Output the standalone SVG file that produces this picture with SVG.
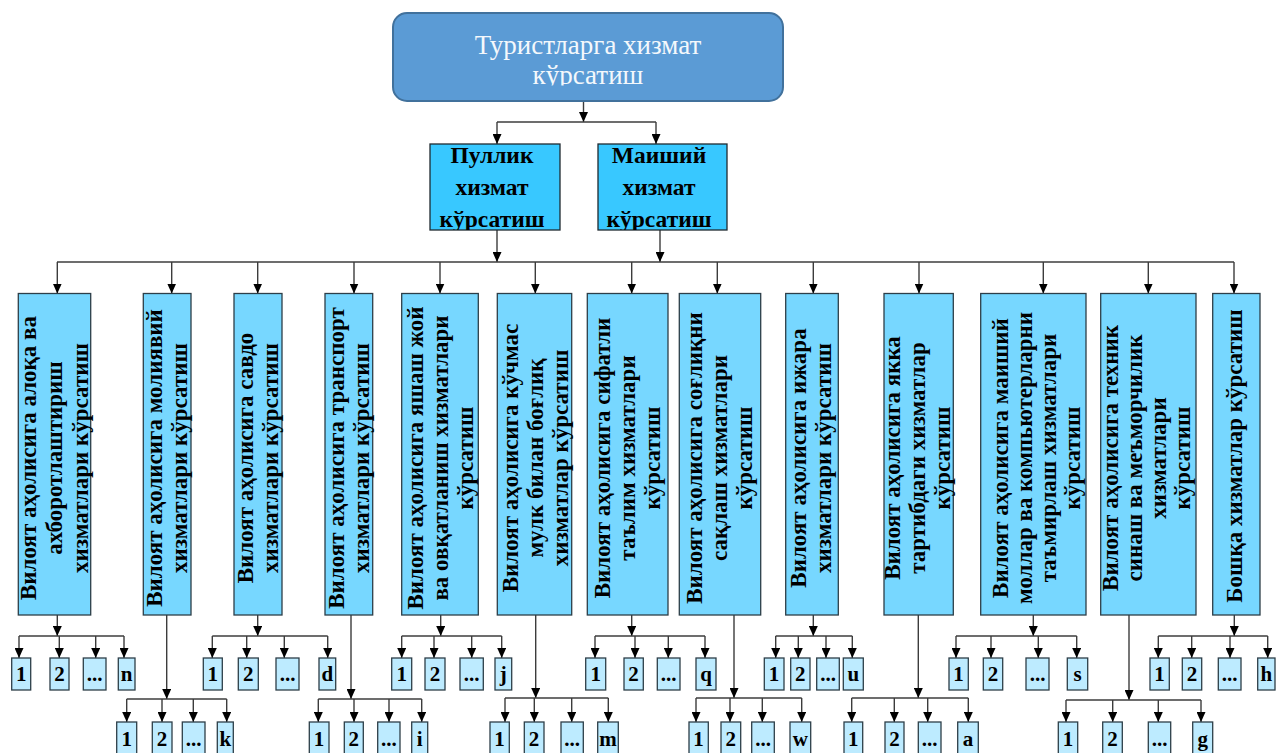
<svg xmlns="http://www.w3.org/2000/svg" width="1279" height="753" viewBox="0 0 1279 753">
<style>
.conn line,.conn path{stroke:#3c3c3c;stroke-width:1.4;fill:none}
.arr{marker-end:url(#ah)}
.vb{fill:#77D7FF;stroke:#2d3e48;stroke-width:1.3}
.sb{fill:#BDEBFF;stroke:#2d3e48;stroke-width:1.3}
.mb{fill:#38C8FF;stroke:#1f2a30;stroke-width:1.3}
.vt{font-family:"Liberation Serif","Times New Roman",serif;font-weight:bold;font-size:23px;fill:#000;text-anchor:middle}
.st{font-family:"Liberation Serif","Times New Roman",serif;font-weight:bold;font-size:21px;fill:#000;text-anchor:middle}
.mt{font-family:"Liberation Serif","Times New Roman",serif;font-weight:bold;font-size:23.5px;fill:#000;text-anchor:middle}
.tt{font-family:"Liberation Serif","Times New Roman",serif;font-size:27px;fill:#F4F8FC;text-anchor:middle}
</style>
<defs>
<marker id="ah" viewBox="0 0 10 9" refX="10" refY="4.5" markerWidth="10" markerHeight="9" markerUnits="userSpaceOnUse" orient="auto"><path d="M0,0 L10,4.5 L0,9 z" fill="#000"/></marker>
<clipPath id="cTop"><rect x="393" y="13" width="390" height="72.5"/></clipPath>
<clipPath id="cP"><rect x="430" y="144" width="130" height="86"/></clipPath>
<clipPath id="cM"><rect x="598" y="144" width="129" height="86"/></clipPath>
</defs>
<rect width="1279" height="753" fill="#fff"/>

<g class="conn" id="connectors">
<line class="arr" x1="583.5" y1="101" x2="583.5" y2="122"/>
<line x1="497" y1="122" x2="656" y2="122"/>
<line class="arr" x1="497" y1="122" x2="497" y2="144"/>
<line class="arr" x1="656" y1="122" x2="656" y2="144"/>
<line class="arr" x1="497" y1="230" x2="497" y2="262"/>
<line class="arr" x1="660" y1="230" x2="660" y2="262"/>
<line x1="57" y1="262" x2="1234" y2="262"/>
<line class="arr" x1="57.3" y1="262" x2="57.3" y2="293.5"/>
<line class="arr" x1="171.7" y1="262" x2="171.7" y2="293.5"/>
<line class="arr" x1="257.7" y1="262" x2="257.7" y2="293.5"/>
<line class="arr" x1="354" y1="262" x2="354" y2="293.5"/>
<line class="arr" x1="440" y1="262" x2="440" y2="293.5"/>
<line class="arr" x1="535.3" y1="262" x2="535.3" y2="293.5"/>
<line class="arr" x1="631.7" y1="262" x2="631.7" y2="293.5"/>
<line class="arr" x1="717.3" y1="262" x2="717.3" y2="293.5"/>
<line class="arr" x1="813.3" y1="262" x2="813.3" y2="293.5"/>
<line class="arr" x1="919" y1="262" x2="919" y2="293.5"/>
<line class="arr" x1="1043.3" y1="262" x2="1043.3" y2="293.5"/>
<line class="arr" x1="1148.3" y1="262" x2="1148.3" y2="293.5"/>
<line class="arr" x1="1234" y1="262" x2="1234" y2="293.5"/>

<line class="arr" x1="57.3" y1="615" x2="57.3" y2="636"/>
<line x1="19" y1="636" x2="124" y2="636"/>
<line class="arr" x1="19" y1="636" x2="19" y2="658"/><line class="arr" x1="59.3" y1="636" x2="59.3" y2="658"/><line class="arr" x1="95.7" y1="636" x2="95.7" y2="658"/><line class="arr" x1="124" y1="636" x2="124" y2="658"/>

<line class="arr" x1="257.7" y1="615" x2="257.7" y2="636"/>
<line x1="212.3" y1="636" x2="327.7" y2="636"/>
<line class="arr" x1="212.3" y1="636" x2="212.3" y2="658"/><line class="arr" x1="246.7" y1="636" x2="246.7" y2="658"/><line class="arr" x1="284.3" y1="636" x2="284.3" y2="658"/><line class="arr" x1="327.7" y1="636" x2="327.7" y2="658"/>

<line class="arr" x1="440.7" y1="615" x2="440.7" y2="636"/>
<line x1="401.7" y1="636" x2="501.7" y2="636"/>
<line class="arr" x1="401.7" y1="636" x2="401.7" y2="658"/><line class="arr" x1="434" y1="636" x2="434" y2="658"/><line class="arr" x1="471.7" y1="636" x2="471.7" y2="658"/><line class="arr" x1="501.7" y1="636" x2="501.7" y2="658"/>

<line class="arr" x1="631.7" y1="615" x2="631.7" y2="636"/>
<line x1="595" y1="636" x2="705" y2="636"/>
<line class="arr" x1="595" y1="636" x2="595" y2="658"/><line class="arr" x1="635" y1="636" x2="635" y2="658"/><line class="arr" x1="668.3" y1="636" x2="668.3" y2="658"/><line class="arr" x1="705" y1="636" x2="705" y2="658"/>

<line class="arr" x1="813.3" y1="615" x2="813.3" y2="636"/>
<line x1="775.7" y1="636" x2="852.3" y2="636"/>
<line class="arr" x1="775.7" y1="636" x2="775.7" y2="658"/><line class="arr" x1="798.3" y1="636" x2="798.3" y2="658"/><line class="arr" x1="826" y1="636" x2="826" y2="658"/><line class="arr" x1="852.3" y1="636" x2="852.3" y2="658"/>

<line class="arr" x1="1033.3" y1="615" x2="1033.3" y2="636"/>
<line x1="956" y1="636" x2="1076.7" y2="636"/>
<line class="arr" x1="956" y1="636" x2="956" y2="658"/><line class="arr" x1="991" y1="636" x2="991" y2="658"/><line class="arr" x1="1038.3" y1="636" x2="1038.3" y2="658"/><line class="arr" x1="1076.7" y1="636" x2="1076.7" y2="658"/>

<line class="arr" x1="1234.3" y1="615" x2="1234.3" y2="636"/>
<line x1="1158.3" y1="636" x2="1267.7" y2="636"/>
<line class="arr" x1="1158.3" y1="636" x2="1158.3" y2="658"/><line class="arr" x1="1191.7" y1="636" x2="1191.7" y2="658"/><line class="arr" x1="1230" y1="636" x2="1230" y2="658"/><line class="arr" x1="1267.7" y1="636" x2="1267.7" y2="658"/>

<line class="arr" x1="166.7" y1="615" x2="166.7" y2="699"/>
<line x1="126.7" y1="699" x2="226.7" y2="699"/>
<line class="arr" x1="126.7" y1="699" x2="126.7" y2="722"/><line class="arr" x1="162" y1="699" x2="162" y2="722"/><line class="arr" x1="193.3" y1="699" x2="193.3" y2="722"/><line class="arr" x1="226.7" y1="699" x2="226.7" y2="722"/>

<line class="arr" x1="351" y1="615" x2="351" y2="699"/>
<line x1="318.3" y1="699" x2="421.7" y2="699"/>
<line class="arr" x1="318.3" y1="699" x2="318.3" y2="722"/><line class="arr" x1="354" y1="699" x2="354" y2="722"/><line class="arr" x1="389" y1="699" x2="389" y2="722"/><line class="arr" x1="421.7" y1="699" x2="421.7" y2="722"/>

<line class="arr" x1="535.7" y1="615" x2="535.7" y2="698"/>
<line x1="505" y1="698" x2="608.3" y2="698"/>
<line class="arr" x1="505" y1="698" x2="505" y2="722"/><line class="arr" x1="534.3" y1="698" x2="534.3" y2="722"/><line class="arr" x1="571.7" y1="698" x2="571.7" y2="722"/><line class="arr" x1="608.3" y1="698" x2="608.3" y2="722"/>

<line class="arr" x1="734" y1="615" x2="734" y2="698"/>
<line x1="696" y1="698" x2="801.7" y2="698"/>
<line class="arr" x1="696" y1="698" x2="696" y2="722"/><line class="arr" x1="730" y1="698" x2="730" y2="722"/><line class="arr" x1="762.3" y1="698" x2="762.3" y2="722"/><line class="arr" x1="801.7" y1="698" x2="801.7" y2="722"/>

<line class="arr" x1="918.3" y1="615" x2="918.3" y2="698"/>
<line x1="851.7" y1="698" x2="968.3" y2="698"/>
<line class="arr" x1="851.7" y1="698" x2="851.7" y2="722"/><line class="arr" x1="894.3" y1="698" x2="894.3" y2="722"/><line class="arr" x1="927.7" y1="698" x2="927.7" y2="722"/><line class="arr" x1="968.3" y1="698" x2="968.3" y2="722"/>

<line class="arr" x1="1129" y1="615" x2="1129" y2="700"/>
<line x1="1066" y1="700" x2="1201" y2="700"/>
<line class="arr" x1="1066" y1="700" x2="1066" y2="722"/><line class="arr" x1="1112.7" y1="700" x2="1112.7" y2="722"/><line class="arr" x1="1158.3" y1="700" x2="1158.3" y2="722"/><line class="arr" x1="1201" y1="700" x2="1201" y2="722"/>
</g>

<g id="root">
<rect x="393" y="13" width="390" height="88" rx="14" fill="#5B9BD5" stroke="#41719C" stroke-width="2"/>
<text class="tt" clip-path="url(#cTop)" x="588" y="53.5">Туристларга хизмат<tspan x="588" dy="30">кўрсатиш</tspan></text>
</g>
<g id="pullik">
<rect class="mb" x="430" y="144" width="130" height="86"/>
<text class="mt" clip-path="url(#cP)" x="492" y="162.5">Пуллик<tspan x="492" dy="32">хизмат</tspan><tspan x="492" dy="32">кўрсатиш</tspan></text>
</g>
<g id="maishiy">
<rect class="mb" x="598" y="144" width="129" height="86"/>
<text class="mt" clip-path="url(#cM)" x="659" y="162.5">Маиший<tspan x="659" dy="32">хизмат</tspan><tspan x="659" dy="32">кўрсатиш</tspan></text>
</g>

<g id="v1"><rect class="vb" x="18.3" y="293.5" width="72.4" height="321.5"/>
<text class="vt" transform="translate(36,458) rotate(-90)"><tspan x="0" y="0">Вилоят аҳолисига алоқа ва</tspan><tspan x="0" dy="26">ахборотлаштириш</tspan><tspan x="0" dy="26">хизматлари кўрсатиш</tspan></text></g>
<g id="v2"><rect class="vb" x="143.3" y="293.5" width="47.7" height="321.5"/>
<text class="vt" transform="translate(161.5,458) rotate(-90)"><tspan x="0" y="0">Вилоят аҳолисига молиявий</tspan><tspan x="0" dy="25">хизматлари кўрсатиш</tspan></text></g>
<g id="v3"><rect class="vb" x="234" y="293.5" width="48" height="321.5"/>
<text class="vt" transform="translate(252.5,458) rotate(-90)"><tspan x="0" y="0">Вилоят аҳолисига савдо</tspan><tspan x="0" dy="25">хизматлари кўрсатиш</tspan></text></g>
<g id="v4"><rect class="vb" x="325" y="293.5" width="47.7" height="321.5"/>
<text class="vt" transform="translate(343.5,458) rotate(-90)"><tspan x="0" y="0">Вилоят аҳолисига транспорт</tspan><tspan x="0" dy="25">хизматлари кўрсатиш</tspan></text></g>
<g id="v5"><rect class="vb" x="401.7" y="293.5" width="76.6" height="321.5"/>
<text class="vt" transform="translate(423,458) rotate(-90)"><tspan x="0" y="0">Вилоят аҳолисига яшаш жой</tspan><tspan x="0" dy="25">ва овқатланиш хизматлари</tspan><tspan x="0" dy="25">кўрсатиш</tspan></text></g>
<g id="v6"><rect class="vb" x="497.3" y="293.5" width="74.4" height="321.5"/>
<text class="vt" transform="translate(517.5,458) rotate(-90)"><tspan x="0" y="0">Вилоят аҳолисига кўчмас</tspan><tspan x="0" dy="25">мулк билан боғлиқ</tspan><tspan x="0" dy="25">хизматлар кўрсатиш</tspan></text></g>
<g id="v7"><rect class="vb" x="587.3" y="293.5" width="80.7" height="321.5"/>
<text class="vt" transform="translate(610,458) rotate(-90)"><tspan x="0" y="0">Вилоят аҳолисига сифатли</tspan><tspan x="0" dy="25">таълим хизматлари</tspan><tspan x="0" dy="25">кўрсатиш</tspan></text></g>
<g id="v8"><rect class="vb" x="679.3" y="293.5" width="81.4" height="321.5"/>
<text class="vt" transform="translate(702,458) rotate(-90)"><tspan x="0" y="0">Вилоят аҳолисига соғлиқни</tspan><tspan x="0" dy="25">сақлаш хизматлари</tspan><tspan x="0" dy="25">кўрсатиш</tspan></text></g>
<g id="v9"><rect class="vb" x="785.7" y="293.5" width="52.6" height="321.5"/>
<text class="vt" transform="translate(806,458) rotate(-90)"><tspan x="0" y="0">Вилоят аҳолисига ижара</tspan><tspan x="0" dy="25">хизматлари кўрсатиш</tspan></text></g>
<g id="v10"><rect class="vb" x="884" y="293.5" width="69.3" height="321.5"/>
<text class="vt" transform="translate(900,458) rotate(-90)"><tspan x="0" y="0">Вилоят аҳолисига якка</tspan><tspan x="0" dy="25">тартибдаги хизматлар</tspan><tspan x="0" dy="25">кўрсатиш</tspan></text></g>
<g id="v11"><rect class="vb" x="980.7" y="293.5" width="105.3" height="321.5"/>
<text class="vt" transform="translate(1008,458) rotate(-90)"><tspan x="0" y="0">Вилоят аҳолисига маиший</tspan><tspan x="0" dy="24">моллар ва компьютерларни</tspan><tspan x="0" dy="24">таъмирлаш хизматлари</tspan><tspan x="0" dy="24">кўрсатиш</tspan></text></g>
<g id="v12"><rect class="vb" x="1100.7" y="293.5" width="95.3" height="321.5"/>
<text class="vt" transform="translate(1118,458) rotate(-90)"><tspan x="0" y="0">Вилоят аҳолисига техник</tspan><tspan x="0" dy="24">синаш ва меъморчилик</tspan><tspan x="0" dy="24">хизматлари</tspan><tspan x="0" dy="24">кўрсатиш</tspan></text></g>
<g id="v13"><rect class="vb" x="1212.7" y="293.5" width="47.3" height="321.5"/>
<text class="vt" transform="translate(1242,456) rotate(-90)"><tspan x="0" y="0">Бошқа хизматлар кўрсатиш</tspan></text></g>

<g id="s1-1"><rect class="sb" x="11.7" y="658" width="19" height="32"/><text class="st" x="21.2" y="681">1</text></g>
<g id="s1-2"><rect class="sb" x="50" y="658" width="19" height="32"/><text class="st" x="59.5" y="681">2</text></g>
<g id="s1-3"><rect class="sb" x="83.3" y="658" width="22.7" height="32"/><text class="st" x="94.6" y="681">...</text></g>
<g id="s1-4"><rect class="sb" x="118.3" y="658" width="16.7" height="32"/><text class="st" x="126.6" y="681">n</text></g>

<g id="s3-1"><rect class="sb" x="203.3" y="658" width="19" height="32"/><text class="st" x="212.8" y="681">1</text></g>
<g id="s3-2"><rect class="sb" x="238.3" y="658" width="20" height="32"/><text class="st" x="248.3" y="681">2</text></g>
<g id="s3-3"><rect class="sb" x="276" y="658" width="23" height="32"/><text class="st" x="287.5" y="681">...</text></g>
<g id="s3-4"><rect class="sb" x="319" y="658" width="16.7" height="32"/><text class="st" x="327.3" y="681">d</text></g>

<g id="s5-1"><rect class="sb" x="391.7" y="658" width="20" height="32"/><text class="st" x="401.7" y="681">1</text></g>
<g id="s5-2"><rect class="sb" x="425" y="658" width="20" height="32"/><text class="st" x="435" y="681">2</text></g>
<g id="s5-3"><rect class="sb" x="460" y="658" width="23.3" height="32"/><text class="st" x="471.6" y="681">...</text></g>
<g id="s5-4"><rect class="sb" x="495" y="658" width="16.7" height="32"/><text class="st" x="503.3" y="681">j</text></g>

<g id="s7-1"><rect class="sb" x="585.7" y="658" width="20" height="32"/><text class="st" x="595.7" y="681">1</text></g>
<g id="s7-2"><rect class="sb" x="624" y="658" width="19.3" height="32"/><text class="st" x="633.6" y="681">2</text></g>
<g id="s7-3"><rect class="sb" x="657.3" y="658" width="22.7" height="32"/><text class="st" x="668.6" y="681">...</text></g>
<g id="s7-4"><rect class="sb" x="696" y="658" width="20" height="32"/><text class="st" x="706" y="681">q</text></g>

<g id="s9-1"><rect class="sb" x="764.3" y="658" width="19.7" height="32"/><text class="st" x="774.1" y="681">1</text></g>
<g id="s9-2"><rect class="sb" x="790.7" y="658" width="19.3" height="32"/><text class="st" x="800.3" y="681">2</text></g>
<g id="s9-3"><rect class="sb" x="816.7" y="658" width="22.6" height="32"/><text class="st" x="828" y="681">...</text></g>
<g id="s9-4"><rect class="sb" x="843.3" y="658" width="20" height="32"/><text class="st" x="853.3" y="681">u</text></g>

<g id="s11-1"><rect class="sb" x="949" y="658" width="19.3" height="32"/><text class="st" x="958.6" y="681">1</text></g>
<g id="s11-2"><rect class="sb" x="983.3" y="658" width="19.4" height="32"/><text class="st" x="993" y="681">2</text></g>
<g id="s11-3"><rect class="sb" x="1026" y="658" width="23" height="32"/><text class="st" x="1037.5" y="681">...</text></g>
<g id="s11-4"><rect class="sb" x="1067.3" y="658" width="20.4" height="32"/><text class="st" x="1077.5" y="681">s</text></g>

<g id="s13-1"><rect class="sb" x="1150" y="658" width="19.3" height="32"/><text class="st" x="1159.6" y="681">1</text></g>
<g id="s13-2"><rect class="sb" x="1182.3" y="658" width="19.4" height="32"/><text class="st" x="1192" y="681">2</text></g>
<g id="s13-3"><rect class="sb" x="1218.3" y="658" width="22.7" height="32"/><text class="st" x="1229.6" y="681">...</text></g>
<g id="s13-4"><rect class="sb" x="1257.7" y="658" width="17.3" height="32"/><text class="st" x="1266.3" y="681">h</text></g>

<g id="s2-1"><rect class="sb" x="116.7" y="722" width="20" height="32"/><text class="st" x="126.7" y="745.5">1</text></g>
<g id="s2-2"><rect class="sb" x="152.3" y="722" width="19.7" height="32"/><text class="st" x="162.1" y="745.5">2</text></g>
<g id="s2-3"><rect class="sb" x="182.3" y="722" width="22.7" height="32"/><text class="st" x="193.6" y="745.5">...</text></g>
<g id="s2-4"><rect class="sb" x="217.3" y="722" width="16" height="32"/><text class="st" x="225.3" y="745.5">k</text></g>

<g id="s4-1"><rect class="sb" x="309.3" y="722" width="19.7" height="32"/><text class="st" x="319.1" y="745.5">1</text></g>
<g id="s4-2"><rect class="sb" x="344.3" y="722" width="19" height="32"/><text class="st" x="353.8" y="745.5">2</text></g>
<g id="s4-3"><rect class="sb" x="377.7" y="722" width="22.3" height="32"/><text class="st" x="388.8" y="745.5">...</text></g>
<g id="s4-4"><rect class="sb" x="411.7" y="722" width="16" height="32"/><text class="st" x="419.7" y="745.5">i</text></g>

<g id="s6-1"><rect class="sb" x="490" y="722" width="19.3" height="32"/><text class="st" x="499.6" y="745.5">1</text></g>
<g id="s6-2"><rect class="sb" x="524.3" y="722" width="19.7" height="32"/><text class="st" x="534.1" y="745.5">2</text></g>
<g id="s6-3"><rect class="sb" x="561" y="722" width="22.3" height="32"/><text class="st" x="572.1" y="745.5">...</text></g>
<g id="s6-4"><rect class="sb" x="597.7" y="722" width="20.6" height="32"/><text class="st" x="608" y="745.5">m</text></g>

<g id="s8-1"><rect class="sb" x="689" y="722" width="19.3" height="32"/><text class="st" x="698.6" y="745.5">1</text></g>
<g id="s8-2"><rect class="sb" x="721" y="722" width="19.7" height="32"/><text class="st" x="730.8" y="745.5">2</text></g>
<g id="s8-3"><rect class="sb" x="751.7" y="722" width="22.6" height="32"/><text class="st" x="763" y="745.5">...</text></g>
<g id="s8-4"><rect class="sb" x="790" y="722" width="20.7" height="32"/><text class="st" x="800.3" y="745.5">w</text></g>

<g id="s10-1"><rect class="sb" x="844" y="722" width="18.7" height="32"/><text class="st" x="853.3" y="745.5">1</text></g>
<g id="s10-2"><rect class="sb" x="885" y="722" width="19" height="32"/><text class="st" x="894.5" y="745.5">2</text></g>
<g id="s10-3"><rect class="sb" x="918.3" y="722" width="22.7" height="32"/><text class="st" x="929.6" y="745.5">...</text></g>
<g id="s10-4"><rect class="sb" x="957.7" y="722" width="20.6" height="32"/><text class="st" x="968" y="745.5">a</text></g>

<g id="s12-1"><rect class="sb" x="1058.3" y="722" width="19.4" height="32"/><text class="st" x="1068" y="745.5">1</text></g>
<g id="s12-2"><rect class="sb" x="1102.7" y="722" width="19.6" height="32"/><text class="st" x="1112.5" y="745.5">2</text></g>
<g id="s12-3"><rect class="sb" x="1148.3" y="722" width="22.4" height="32"/><text class="st" x="1159.5" y="745.5">...</text></g>
<g id="s12-4"><rect class="sb" x="1192.7" y="722" width="20" height="32"/><text class="st" x="1202.7" y="745.5">g</text></g>
</svg>
